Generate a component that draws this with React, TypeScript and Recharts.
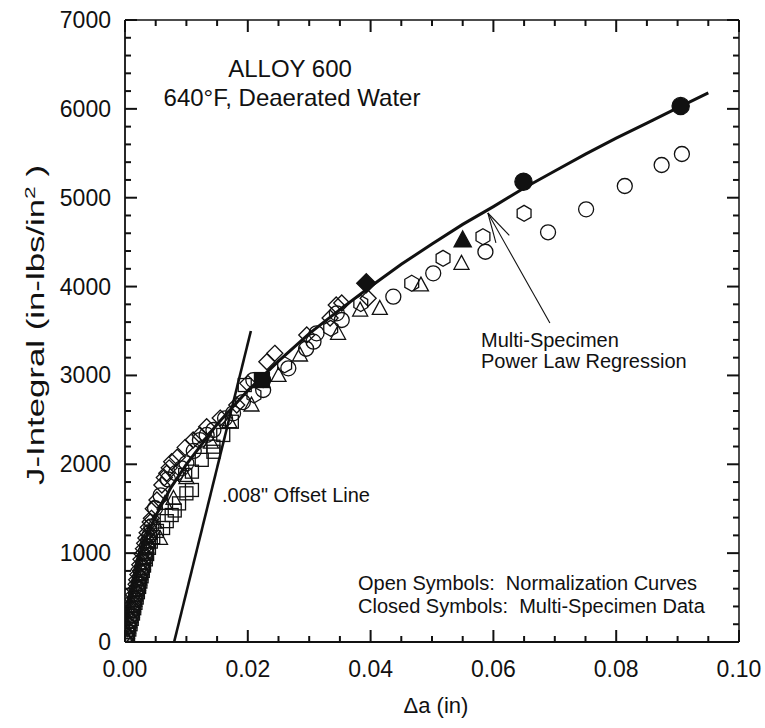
import React from "react";
import { ScatterChart, Scatter, XAxis, YAxis, ReferenceLine } from "recharts";

// ---- tick values / labels ----
const xMajorTicks = [0, 0.02, 0.04, 0.06, 0.08, 0.1];
const xTickLabels = ["0.00", "0.02", "0.04", "0.06", "0.08", "0.10"];
const xMinorTicks = [
  0.005, 0.01, 0.015, 0.025, 0.03, 0.035, 0.045, 0.05, 0.055, 0.065, 0.07, 0.075, 0.085, 0.09, 0.095,
];
const yMajorTicks = [0, 1000, 2000, 3000, 4000, 5000, 6000, 7000];
const yTickLabels = ["0", "1000", "2000", "3000", "4000", "5000", "6000", "7000"];
const yMinorTicks = Array.from({ length: 36 }, (_, i) => i * 200).filter((v) => v % 1000 !== 0);

// ---- open symbols: normalization curves (delta a [in], J [in-lbs/in^2]) ----
const openDiamonds: [number, number][] = [
  [0.0, 30], [0.0002, 90], [0.0004, 150], [0.0005, 200], [0.0007, 260], [0.0008, 310],
  [0.001, 370], [0.0011, 420], [0.0013, 480], [0.0014, 530], [0.0016, 590], [0.0018, 650],
  [0.0019, 700], [0.0021, 760], [0.0023, 820], [0.0024, 870], [0.0026, 930], [0.0028, 990],
  [0.003, 1050], [0.0032, 1110], [0.0034, 1170], [0.0036, 1230], [0.0038, 1290], [0.0041, 1350],
  [0.0043, 1392], [0.0046, 1500], [0.0052, 1598], [0.006, 1767], [0.0064, 1850],
  [0.0068, 1899], [0.0072, 1960], [0.0076, 2029], [0.0085, 2080], [0.0098, 2190], [0.0111, 2273],
  [0.0122, 2330], [0.0133, 2423], [0.0155, 2520], [0.0182, 2667], [0.02, 2911], [0.0231, 3154],
  [0.0244, 3249], [0.0296, 3455], [0.0334, 3646], [0.0344, 3793], [0.0353, 3815], [0.0396, 3868],
];
const openSquares: [number, number][] = [
  [0.0003, 20], [0.0005, 80], [0.0007, 140], [0.0009, 200], [0.0011, 260], [0.0013, 320],
  [0.0015, 380], [0.0017, 440], [0.0019, 500], [0.0021, 560], [0.0023, 620], [0.0025, 680],
  [0.0027, 740], [0.0029, 800], [0.0031, 860], [0.0034, 930], [0.0036, 990], [0.0039, 1060],
  [0.0042, 1130], [0.0046, 1180], [0.0052, 1250], [0.0062, 1283], [0.0068, 1360], [0.0076, 1429],
  [0.0081, 1480], [0.0088, 1560], [0.01, 1673], [0.0109, 1711], [0.0098, 1880], [0.0109, 1917],
  [0.0125, 2050], [0.0144, 2141], [0.0144, 2198], [0.016, 2330], [0.0174, 2479], [0.0195, 2892],
];
const openCircles: [number, number][] = [
  [0.0, 0], [0.0002, 60], [0.0004, 120], [0.0006, 180], [0.0008, 240], [0.001, 300],
  [0.0012, 360], [0.0014, 420], [0.0016, 480], [0.0018, 540], [0.002, 600], [0.0022, 660],
  [0.0024, 720], [0.0026, 780], [0.0028, 840], [0.003, 900], [0.0032, 960], [0.0034, 1020],
  [0.0036, 1080], [0.0038, 1140], [0.004, 1200], [0.0043, 1300], [0.0049, 1505], [0.0058, 1650],
  [0.007, 1830], [0.0083, 1900], [0.0092, 1955], [0.01, 2011], [0.0112, 2150], [0.0122, 2273],
  [0.0133, 2330], [0.0144, 2386], [0.0163, 2517], [0.0176, 2574], [0.0192, 2700], [0.0209, 2948],
  [0.0225, 2836], [0.0225, 2948], [0.0266, 3080], [0.0295, 3300], [0.0307, 3380], [0.0312, 3474],
  [0.0345, 3699], [0.0353, 3624], [0.0437, 3886], [0.0502, 4149], [0.0587, 4392], [0.0689, 4611],
  [0.0751, 4869], [0.0814, 5132], [0.0874, 5368], [0.0907, 5492],
];
const openTriangles: [number, number][] = [
  [0.0001, 50], [0.0003, 110], [0.0005, 170], [0.0007, 230], [0.0009, 290], [0.0011, 350],
  [0.0013, 410], [0.0015, 470], [0.0017, 530], [0.0019, 590], [0.0021, 650], [0.0023, 710],
  [0.0025, 770], [0.0027, 830], [0.0029, 890], [0.0031, 950], [0.0033, 1010], [0.0035, 1070],
  [0.0037, 1130], [0.004, 1223], [0.0057, 1167], [0.0048, 1350], [0.0065, 1560], [0.0079, 1617],
  [0.01, 1850], [0.014, 2250], [0.017, 2480], [0.0206, 2667], [0.025, 3000], [0.0285, 3230],
  [0.0347, 3474], [0.0383, 3736], [0.0415, 3755], [0.0482, 4018], [0.0548, 4262],
];
const openHexagons: [number, number][] = [
  [0.021, 2780], [0.026, 3120], [0.0335, 3530], [0.0384, 3810], [0.0467, 4037], [0.0518, 4318],
  [0.0583, 4561], [0.065, 4824],
];

// ---- closed symbols: multi-specimen data ----
const closedSquares: [number, number][] = [[0.0223, 2948]];
const closedDiamonds: [number, number][] = [[0.0393, 4037]];
const closedTriangles: [number, number][] = [[0.055, 4524]];
const closedCircles: [number, number][] = [[0.0649, 5180], [0.0905, 6032]];

// ---- multi-specimen power law regression ----
const regression: [number, number][] = [
  [0.0015, 800], [0.003, 1100], [0.005, 1420], [0.0075, 1740], [0.01, 2000], [0.015, 2450],
  [0.02, 2830], [0.025, 3160], [0.03, 3470], [0.035, 3740], [0.04, 4000], [0.045, 4250],
  [0.05, 4480], [0.055, 4700], [0.06, 4900], [0.065, 5110], [0.07, 5300], [0.075, 5490],
  [0.08, 5670], [0.085, 5840], [0.09, 6010], [0.095, 6180],
];

// .008" offset line end points, and the label arrow (tail -> tip)
const offsetLine: [number, number][] = [[0.008, 0], [0.0205, 3500]];
const arrowSeg: [number, number][] = [[0.0692, 3590], [0.0591, 4828]];

const toPts = (a: [number, number][]) => a.map(([x, y]) => ({ x, y }));

const INK = "#111";
const FONT = "'Liberation Sans', Arial, Helvetica, sans-serif";
const W = 765;
const H = 728;
const TICK_W = 2;
// plot frame set by the chart margins + axis sizes below
const PLOT = { left: 125, right: 739, top: 20, bottom: 642 };
const X_PER_PX = 0.1 / (PLOT.right - PLOT.left);
const Y_PER_PX = 7000 / (PLOT.bottom - PLOT.top);
const px = (v: number) => PLOT.left + v / X_PER_PX;
const py = (v: number) => PLOT.bottom - v / Y_PER_PX;

type Kind = "circle" | "diamond" | "square" | "triangle" | "hexagon";

function Glyph({ kind, cx, cy, filled }: { kind: Kind; cx: number; cy: number; filled: boolean }) {
  const fill = filled ? INK : "none";
  const common = { fill, stroke: INK, strokeWidth: 1.3 };
  const k = filled ? 1.15 : 1;
  if (kind === "circle") return <circle cx={cx} cy={cy} r={7.5 * k} {...common} />;
  if (kind === "square") {
    const s = 6.5 * k;
    return <rect x={cx - s} y={cy - s} width={2 * s} height={2 * s} {...common} />;
  }
  if (kind === "diamond") {
    const s = 8 * (filled ? 1.2 : 1);
    return <polygon points={`${cx},${cy - s} ${cx + s},${cy} ${cx},${cy + s} ${cx - s},${cy}`} {...common} />;
  }
  if (kind === "triangle") {
    const s = 7.5 * k;
    return (
      <polygon points={`${cx},${cy - s * 1.05} ${cx + s},${cy + s * 0.8} ${cx - s},${cy + s * 0.8}`} {...common} />
    );
  }
  const r = 8;
  const pts = [0, 1, 2, 3, 4, 5]
    .map((i) => {
      const a = (Math.PI / 180) * (-90 + i * 60);
      return `${cx + r * Math.cos(a)},${cy + r * Math.sin(a)}`;
    })
    .join(" ");
  return <polygon points={pts} {...common} />;
}

const shapeOf = (kind: Kind, filled: boolean) => (p: any) => <Glyph kind={kind} cx={p.cx} cy={p.cy} filled={filled} />;

function BottomTick(props: any) {
  const { x, y, payload } = props;
  const i = xMajorTicks.findIndex((t) => Math.abs(t - payload.value) < 1e-9);
  if (i < 0) return <g />;
  return (
    <text x={x} y={y + 35} textAnchor="middle" fontSize={23} fill={INK} fontFamily={FONT}>
      {xTickLabels[i]}
    </text>
  );
}

function LeftTick(props: any) {
  const { x, y, payload } = props;
  const i = yMajorTicks.findIndex((t) => t === payload.value);
  if (i < 0) return <g />;
  return (
    <text x={x - 14} y={y + 8} textAnchor="end" fontSize={23} fill={INK} fontFamily={FONT}>
      {yTickLabels[i]}
    </text>
  );
}

function ArrowShape(props: any) {
  const { x1, y1, x2, y2 } = props;
  const ang = Math.atan2(y1 - y2, x1 - x2);
  const arm = 31;
  const a1 = ang - 0.25;
  const a2 = ang + 0.25;
  return (
    <g stroke={INK} strokeWidth={1.1} fill="none">
      <line x1={x1} y1={y1} x2={x2} y2={y2} />
      <line x1={x2} y1={y2} x2={x2 + arm * Math.cos(a1)} y2={y2 + arm * Math.sin(a1)} />
      <line x1={x2} y1={y2} x2={x2 + arm * Math.cos(a2)} y2={y2 + arm * Math.sin(a2)} />
    </g>
  );
}

const allX = [...xMajorTicks, ...xMinorTicks].sort((a, b) => a - b);
const allY = [...yMajorTicks, ...yMinorTicks].sort((a, b) => a - b);
const isMajorX = (t: number) => xMajorTicks.some((m) => Math.abs(m - t) < 1e-9);
const isMajorY = (t: number) => yMajorTicks.includes(t);

// inward tick marks on all four sides of the frame (drawn over the chart)
function FrameTicks() {
  return (
    <g stroke={INK} strokeWidth={TICK_W}>
      {allX.map((t) => {
        const len = isMajorX(t) ? 12 : 6;
        const x = px(t);
        return (
          <g key={`x${t}`}>
            <line x1={x} x2={x} y1={PLOT.bottom} y2={PLOT.bottom - len} />
            <line x1={x} x2={x} y1={PLOT.top} y2={PLOT.top + len} />
          </g>
        );
      })}
      {allY.map((t) => {
        const len = isMajorY(t) ? 12 : 6;
        const y = py(t);
        return (
          <g key={`y${t}`}>
            <line x1={PLOT.left} x2={PLOT.left + len} y1={y} y2={y} />
            <line x1={PLOT.right} x2={PLOT.right - len} y1={y} y2={y} />
          </g>
        );
      })}
    </g>
  );
}

export default function App() {
  return (
    <div style={{ position: "absolute", left: 0, top: 0, width: W, height: H, background: "#fff" }}>
      <ScatterChart width={W} height={H} margin={{ top: 20, right: 26, bottom: 26, left: 65 }}>
        <XAxis
          type="number"
          dataKey="x"
          domain={[0, 0.1]}
          ticks={allX}
          interval={0}
          tickSize={0}
          tickMargin={0}
          height={60}
          tick={<BottomTick />}
          axisLine={{ stroke: INK, strokeWidth: 1.8 }}
          allowDataOverflow
        />
        <YAxis
          type="number"
          dataKey="y"
          domain={[0, 7000]}
          ticks={allY}
          interval={0}
          tickSize={0}
          tickMargin={0}
          width={60}
          tick={<LeftTick />}
          axisLine={{ stroke: INK, strokeWidth: 1.8 }}
          allowDataOverflow
        />

        <Scatter data={toPts(openDiamonds)} shape={shapeOf("diamond", false)} isAnimationActive={false} />
        <Scatter data={toPts(openSquares)} shape={shapeOf("square", false)} isAnimationActive={false} />
        <Scatter data={toPts(openCircles)} shape={shapeOf("circle", false)} isAnimationActive={false} />
        <Scatter data={toPts(openTriangles)} shape={shapeOf("triangle", false)} isAnimationActive={false} />
        <Scatter data={toPts(openHexagons)} shape={shapeOf("hexagon", false)} isAnimationActive={false} />

        <Scatter
          data={toPts(regression)}
          line={{ stroke: INK, strokeWidth: 3 }}
          shape={() => <g />}
          isAnimationActive={false}
        />

        <Scatter data={toPts(closedSquares)} shape={shapeOf("square", true)} isAnimationActive={false} />
        <Scatter data={toPts(closedDiamonds)} shape={shapeOf("diamond", true)} isAnimationActive={false} />
        <Scatter data={toPts(closedTriangles)} shape={shapeOf("triangle", true)} isAnimationActive={false} />
        <Scatter data={toPts(closedCircles)} shape={shapeOf("circle", true)} isAnimationActive={false} />

        <ReferenceLine segment={toPts(offsetLine)} stroke={INK} strokeWidth={2.6} ifOverflow="visible" />
        <ReferenceLine segment={toPts(arrowSeg)} shape={ArrowShape} ifOverflow="visible" />
        <ReferenceLine y={7000} stroke={INK} strokeWidth={1.5} />
        <ReferenceLine x={0.1} stroke={INK} strokeWidth={1.5} />
      </ScatterChart>

      <svg
        width={W}
        height={H}
        style={{ position: "absolute", left: 0, top: 0, pointerEvents: "none" }}
        fontFamily={FONT}
        fill={INK}
      >
        <FrameTicks />
        <text x={290} y={77} textAnchor="middle" fontSize={24}>ALLOY 600</text>
        <text x={292} y={106} textAnchor="middle" fontSize={24}>640°F, Deaerated Water</text>
        <text x={481} y={347} fontSize={20}>Multi-Specimen</text>
        <text x={481} y={368} fontSize={20}>Power Law Regression</text>
        <text x={222} y={502} fontSize={20}>.008" Offset Line</text>
        <text x={358} y={590} fontSize={20} style={{ whiteSpace: "pre" }}>Open Symbols:  Normalization Curves</text>
        <text x={358} y={613} fontSize={20} style={{ whiteSpace: "pre" }}>Closed Symbols:  Multi-Specimen Data</text>
        <text x={436} y={713} textAnchor="middle" fontSize={22}>Δa (in)</text>
        <text
          x={44}
          y={325}
          textAnchor="middle"
          fontSize={23}
          transform="rotate(-90, 44, 325)"
          textLength={320}
          lengthAdjust="spacingAndGlyphs"
        >
          J-Integral (in-lbs/in<tspan dy={-9} fontSize={15}>2</tspan>
          <tspan dy={9}> )</tspan>
        </text>
      </svg>
    </div>
  );
}
